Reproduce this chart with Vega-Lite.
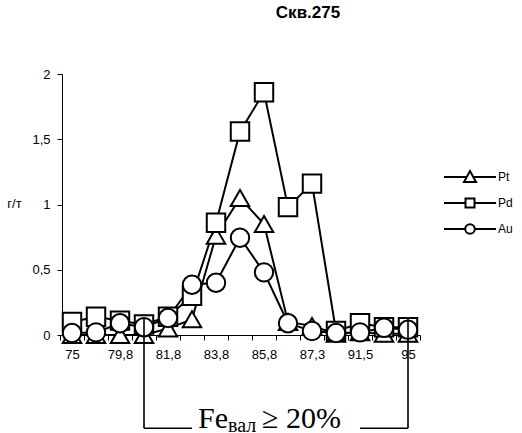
{
  "$schema": "https://vega.github.io/schema/vega-lite/v6.json",
  "autosize": {"type": "none"},
  "padding": {"left": 60, "top": 74, "right": 102, "bottom": 98},
  "width": 360,
  "height": 261,
  "background": "white",
  "config": {"view": {"stroke": null}},
  "title": {"text": "Скв.275", "font": "Liberation Sans", "fontSize": 17, "fontWeight": "bold", "color": "black", "frame": "group", "anchor": "middle", "dx": 68, "offset": 33, "baseline": "alphabetic"},
  "datasets": {
    "series": [
      {"depth": "75", "series": "Pt", "value": 0.0},
      {"depth": "77,4", "series": "Pt", "value": 0.0},
      {"depth": "79,8", "series": "Pt", "value": 0.0},
      {"depth": "80,8", "series": "Pt", "value": 0.0},
      {"depth": "81,8", "series": "Pt", "value": 0.05},
      {"depth": "82,8", "series": "Pt", "value": 0.12},
      {"depth": "83,8", "series": "Pt", "value": 0.76},
      {"depth": "84,8", "series": "Pt", "value": 1.05},
      {"depth": "85,8", "series": "Pt", "value": 0.85},
      {"depth": "86,5", "series": "Pt", "value": 0.1},
      {"depth": "87,3", "series": "Pt", "value": 0.07},
      {"depth": "89,4", "series": "Pt", "value": 0.01},
      {"depth": "91,5", "series": "Pt", "value": 0.02},
      {"depth": "93,2", "series": "Pt", "value": 0.01},
      {"depth": "95", "series": "Pt", "value": 0.01},
      {"depth": "75", "series": "Pd", "value": 0.1},
      {"depth": "77,4", "series": "Pd", "value": 0.14},
      {"depth": "79,8", "series": "Pd", "value": 0.11},
      {"depth": "80,8", "series": "Pd", "value": 0.08},
      {"depth": "81,8", "series": "Pd", "value": 0.14},
      {"depth": "82,8", "series": "Pd", "value": 0.3},
      {"depth": "83,8", "series": "Pd", "value": 0.86},
      {"depth": "84,8", "series": "Pd", "value": 1.56},
      {"depth": "85,8", "series": "Pd", "value": 1.86},
      {"depth": "86,5", "series": "Pd", "value": 0.98},
      {"depth": "87,3", "series": "Pd", "value": 1.16},
      {"depth": "89,4", "series": "Pd", "value": 0.03},
      {"depth": "91,5", "series": "Pd", "value": 0.09},
      {"depth": "93,2", "series": "Pd", "value": 0.06},
      {"depth": "95", "series": "Pd", "value": 0.06},
      {"depth": "75", "series": "Au", "value": 0.015},
      {"depth": "77,4", "series": "Au", "value": 0.02},
      {"depth": "79,8", "series": "Au", "value": 0.09},
      {"depth": "80,8", "series": "Au", "value": 0.06},
      {"depth": "81,8", "series": "Au", "value": 0.13},
      {"depth": "82,8", "series": "Au", "value": 0.385},
      {"depth": "83,8", "series": "Au", "value": 0.4},
      {"depth": "84,8", "series": "Au", "value": 0.745},
      {"depth": "85,8", "series": "Au", "value": 0.48},
      {"depth": "86,5", "series": "Au", "value": 0.09},
      {"depth": "87,3", "series": "Au", "value": 0.03},
      {"depth": "89,4", "series": "Au", "value": 0.015},
      {"depth": "91,5", "series": "Au", "value": 0.02},
      {"depth": "93,2", "series": "Au", "value": 0.055},
      {"depth": "95", "series": "Au", "value": 0.04}
    ],
    "bracket": [
      {"depth": "80,8", "depth2": "80,8", "value": 0.13, "value2": -0.715},
      {"depth": "95", "depth2": "95", "value": 0.13, "value2": -0.715},
      {"depth": "80,8", "depth2": "82,8", "value": -0.715, "value2": -0.715},
      {"depth": "91,5", "depth2": "95", "value": -0.715, "value2": -0.715}
    ]
  },
  "layer": [
    {
      "data": {"name": "series"},
      "mark": {"type": "line", "stroke": "black", "strokeWidth": 2},
      "encoding": {
        "x": {
          "field": "depth", "type": "ordinal", "bandPosition": 0.5,
          "scale": {"type": "band", "domain": ["75","77,4","79,8","80,8","81,8","82,8","83,8","84,8","85,8","86,5","87,3","89,4","91,5","93,2","95"], "paddingInner": 0, "paddingOuter": 0},
          "axis": {
            "title": null,
            "labelExpr": "indexof(['75','79,8','81,8','83,8','85,8','87,3','91,5','95'], datum.label) >= 0 ? datum.label : ''",
            "tickBand": "extent", "labelAngle": 0, "labelOverlap": false,
            "labelFont": "Liberation Sans", "labelFontSize": 13, "labelColor": "black",
            "domainColor": "black", "tickColor": "black", "tickSize": 5, "labelPadding": 8, "grid": false
          }
        },
        "y": {
          "field": "value", "type": "quantitative",
          "scale": {"domain": [0, 2], "nice": false, "zero": false},
          "axis": {
            "title": "г/т", "titleAngle": 0, "titleX": -48, "titleY": 129, "titleAlign": "center", "titleBaseline": "middle",
            "titleFont": "Liberation Sans", "titleFontSize": 13, "titleFontWeight": "normal", "titleColor": "black",
            "values": [0, 0.5, 1, 1.5, 2], "labelExpr": "replace(format(datum.value, '~g'), '.', ',')",
            "labelFont": "Liberation Sans", "labelFontSize": 13, "labelColor": "black",
            "domainColor": "black", "tickColor": "black", "tickSize": 5, "labelPadding": 7, "grid": false, "offset": -2
          }
        },
        "detail": {"field": "series"}
      }
    },
    {
      "data": {"name": "series"},
      "mark": {"type": "point", "filled": true, "fill": "white", "stroke": "black", "strokeWidth": 2, "size": 340, "opacity": 1},
      "encoding": {
        "x": {"field": "depth", "type": "ordinal", "bandPosition": 0.5},
        "y": {"field": "value", "type": "quantitative"},
        "shape": {"field": "series", "type": "nominal", "scale": {"domain": ["Pt", "Pd", "Au"], "range": ["triangle-up", "square", "circle"]}, "legend": null}
      }
    },
    {
      "data": {"name": "series"},
      "mark": {"type": "point", "filled": false, "stroke": "black", "strokeWidth": 2, "size": 400, "opacity": 0},
      "encoding": {
        "x": {"field": "depth", "type": "ordinal", "bandPosition": 0.5},
        "y": {"field": "value", "type": "quantitative"},
        "shape": {
          "field": "series", "type": "nominal",
          "scale": {"domain": ["Pt", "Pd", "Au"], "range": [
            "M-2.6,0H-0.33M0.33,0H2.6M0,-0.6L0.6,0.5H-0.6Z",
            "M-2.6,0H-0.45M0.45,0H2.6M-0.45,-0.45H0.45V0.45H-0.45Z",
            "M-2.6,0H-0.48M0.48,0H2.6M-0.48,0A0.48,0.48 0 1,0 0.48,0A0.48,0.48 0 1,0 -0.48,0Z"
          ]},
          "legend": {
            "orient": "none", "legendX": 399, "legendY": 92, "title": null, "padding": 0,
            "labelFont": "Liberation Sans", "labelFontSize": 12, "labelColor": "black", "labelOffset": 17,
            "rowPadding": 6, "symbolOpacity": 1, "symbolStrokeColor": "black",
            "symbolStrokeWidth": 2, "symbolSize": 400
          }
        }
      }
    },
    {
      "data": {"name": "bracket"},
      "mark": {"type": "rule", "stroke": "black", "strokeWidth": 1.6},
      "encoding": {
        "x": {"field": "depth", "type": "ordinal", "bandPosition": 0.5},
        "x2": {"field": "depth2", "bandPosition": 0.5},
        "y": {"field": "value", "type": "quantitative"},
        "y2": {"field": "value2"}
      }
    },
    {
      "data": {"values": [{"depth": "82,8", "value": -0.715, "label": "Fe"}]},
      "mark": {"type": "text", "font": "Liberation Serif", "fontSize": 30, "align": "left", "baseline": "alphabetic", "dx": 6, "color": "black"},
      "encoding": {
        "x": {"field": "depth", "type": "ordinal", "bandPosition": 0.5},
        "y": {"field": "value", "type": "quantitative"},
        "text": {"field": "label"}
      }
    },
    {
      "data": {"values": [{"depth": "82,8", "value": -0.715, "label": "вал"}]},
      "mark": {"type": "text", "font": "Liberation Serif", "fontSize": 20, "align": "left", "baseline": "alphabetic", "dx": 36, "dy": 4, "color": "black"},
      "encoding": {
        "x": {"field": "depth", "type": "ordinal", "bandPosition": 0.5},
        "y": {"field": "value", "type": "quantitative"},
        "text": {"field": "label"}
      }
    },
    {
      "data": {"values": [{"depth": "82,8", "value": -0.715, "label": "≥ 20%"}]},
      "mark": {"type": "text", "font": "Liberation Serif", "fontSize": 30, "align": "left", "baseline": "alphabetic", "dx": 70, "color": "black"},
      "encoding": {
        "x": {"field": "depth", "type": "ordinal", "bandPosition": 0.5},
        "y": {"field": "value", "type": "quantitative"},
        "text": {"field": "label"}
      }
    }
  ],
  "resolve": {"scale": {"shape": "independent"}, "legend": {"shape": "independent"}}
}
